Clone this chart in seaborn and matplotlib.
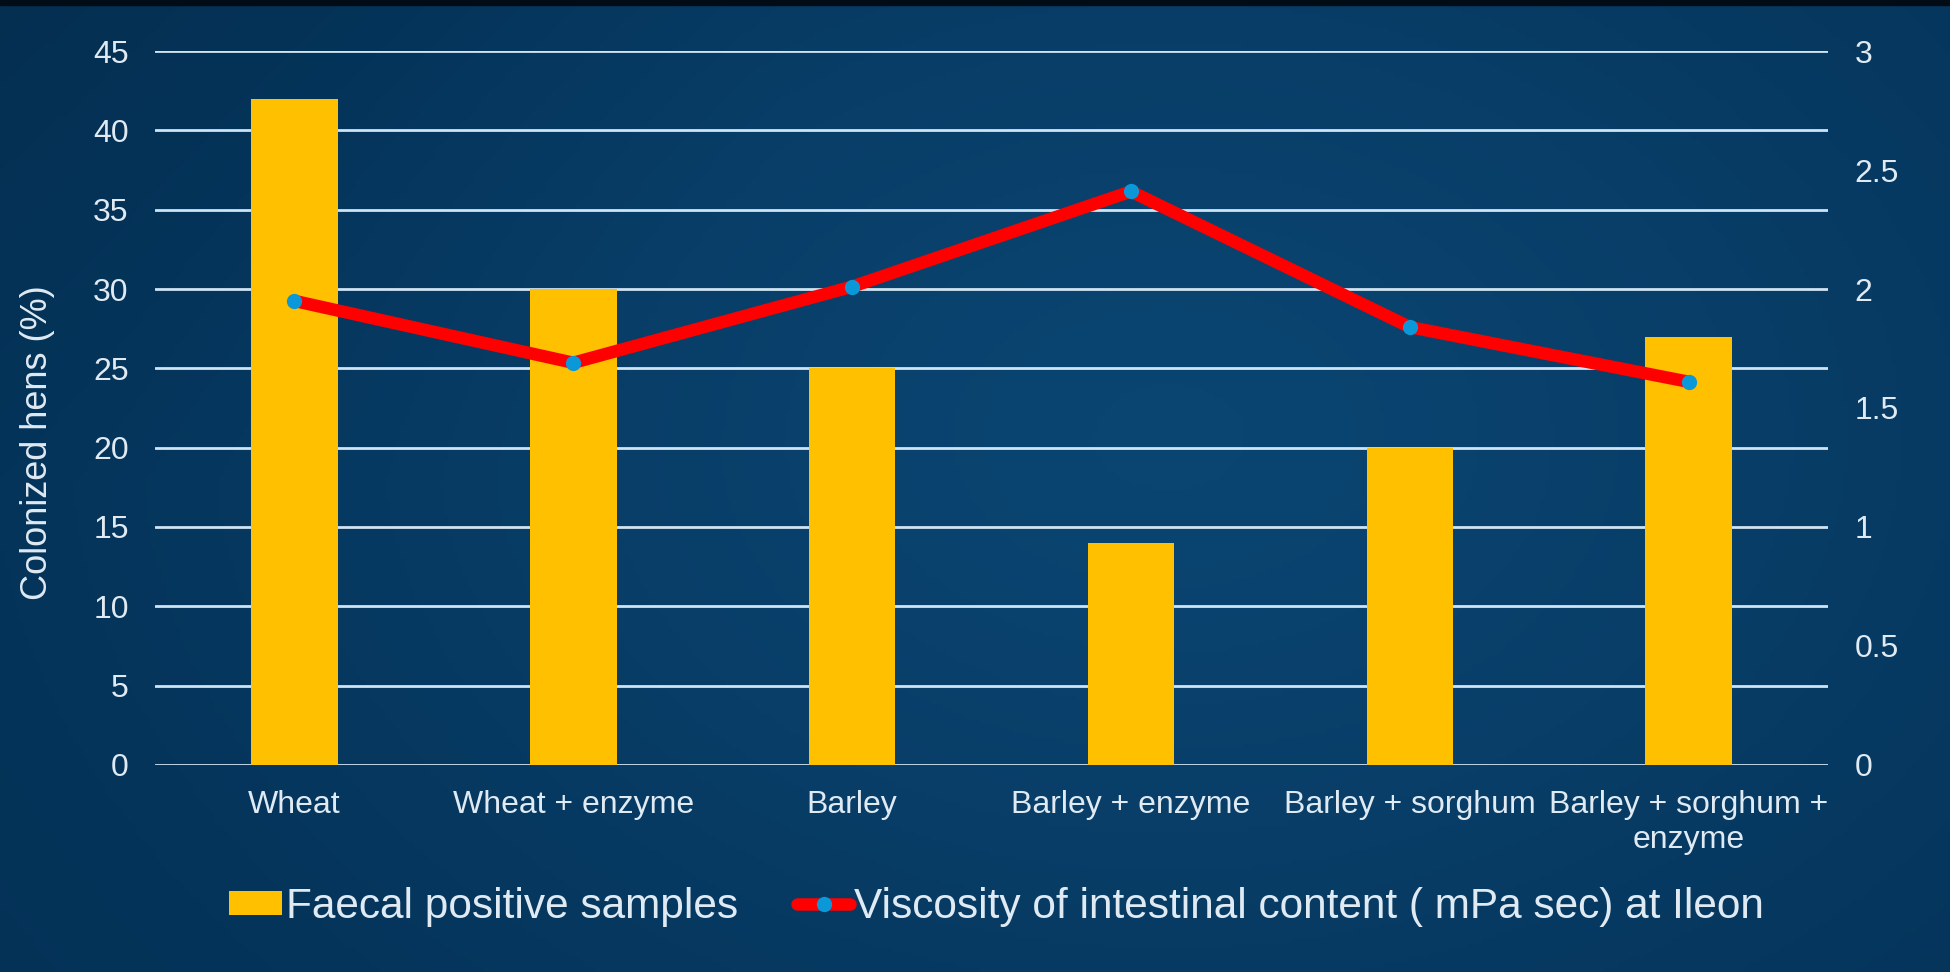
import numpy as np
import pandas as pd
import matplotlib
matplotlib.use("Agg")
import matplotlib.pyplot as plt
from matplotlib.colors import LinearSegmentedColormap
from matplotlib.lines import Line2D
from matplotlib.patches import Patch
import seaborn as sns

# ---- data -------------------------------------------------------------
diets = ["Wheat", "Wheat + enzyme", "Barley", "Barley + enzyme",
         "Barley + sorghum", "Barley + sorghum +\nenzyme"]
faecal_positive = [42, 30, 25, 14, 20, 27]            # colonized hens (%)
viscosity_ileon = [1.95, 1.69, 2.01, 2.41, 1.84, 1.61]  # mPa sec
left_ticks = [0, 5, 10, 15, 20, 25, 30, 35, 40, 45]
right_ticks = [0, 0.5, 1, 1.5, 2, 2.5, 3]
right_tick_labels = ["0", "0.5", "1", "1.5", "2", "2.5", "3"]
bar_label = "Faecal positive samples"
line_label = "Viscosity of intestinal content ( mPa sec) at Ileon"

sns.set_theme(style="white")
plt.rcParams["font.family"] = ["Liberation Sans", "DejaVu Sans"]

TEXT = "#dfeaf3"
GRID = "#cfe4f3"
BAR = "#ffc000"
LINE = "#ff0000"
DOT = "#0a98d8"

fig = plt.figure(figsize=(19.5, 9.72), dpi=100)

# navy backdrop with a soft lighter patch right of centre
bg = fig.add_axes([0, 0, 1, 1], zorder=-10)
h, w = 200, 400
yy, xx = np.mgrid[0:1:h * 1j, 0:1:w * 1j]
glow = np.exp(-(((xx - 0.6) / 0.5) ** 2 + ((yy - 0.45) / 0.7) ** 2))
shade = 0.35 + 0.65 * glow
shade -= 0.2 * np.clip(1 - xx * 2.5, 0, 1) * np.clip(1 - yy * 2.0, 0, 1)
cmap = LinearSegmentedColormap.from_list("sky", ["#032a48", "#05345a", "#0a4470"])
bg.imshow(shade, cmap=cmap, aspect="auto", extent=[0, 1, 0, 1], origin="upper",
          vmin=0, vmax=1)
bg.axhspan(0.995, 1.0, color="#020c16")
bg.set_xlim(0, 1)
bg.set_ylim(0, 1)
bg.axis("off")

ax = fig.add_axes([0.0795, 0.2130, 0.8580, 0.7345])
ax.set_facecolor("none")

df = pd.DataFrame({"diet": diets, "pos": faecal_positive, "visc": viscosity_ileon})
sns.barplot(data=df, x="diet", y="pos", color=BAR, saturation=1, width=0.31,
            linewidth=0, ax=ax, zorder=3)
ax.set_ylim(0, 45)
ax.set_xlim(-0.5, len(diets) - 0.5)
ax.set_yticks(left_ticks)
ax.set_yticklabels([str(t) for t in left_ticks])
ax.yaxis.grid(True, color=GRID, linewidth=2)
ax.set_axisbelow(True)
for s in ax.spines.values():
    s.set_visible(False)
ax.tick_params(axis="both", length=0, colors=TEXT, labelsize=23)
ax.tick_params(axis="y", pad=19)
ax.tick_params(axis="x", pad=18)
ax.set_xlabel("")
ax.set_ylabel("Colonized hens (%)", color=TEXT, fontsize=26)
ax.yaxis.set_label_coords(-0.060, 0.452)

ax2 = ax.twinx()
ax2.set_facecolor("none")
sns.lineplot(x=np.arange(len(diets)), y=df["visc"].values, ax=ax2, color=LINE,
             linewidth=9, marker="o", markersize=11, markerfacecolor=DOT,
             markeredgewidth=0, zorder=5)
ax2.set_ylim(0, 3)
ax2.set_xlim(-0.5, len(diets) - 0.5)
ax2.set_yticks(right_ticks)
ax2.set_yticklabels(right_tick_labels)
ax2.grid(False)
for s in ax2.spines.values():
    s.set_visible(False)
ax2.tick_params(axis="y", length=0, colors=TEXT, labelsize=23, pad=19)
ax2.set_ylabel("")

handles = [
    Patch(facecolor=BAR, edgecolor="none"),
    Line2D([0], [0], color=LINE, linewidth=9, marker="o", markersize=11,
           markerfacecolor=DOT, markeredgewidth=0),
]
leg = fig.legend(handles, [bar_label, line_label], loc="center",
                 bbox_to_anchor=(0.511, 0.067), ncol=2, frameon=False,
                 fontsize=30.5, labelcolor=TEXT, handlelength=1.25,
                 handleheight=0.5, handletextpad=0.1, columnspacing=1.4)

fig.savefig("out.png", dpi=100)
